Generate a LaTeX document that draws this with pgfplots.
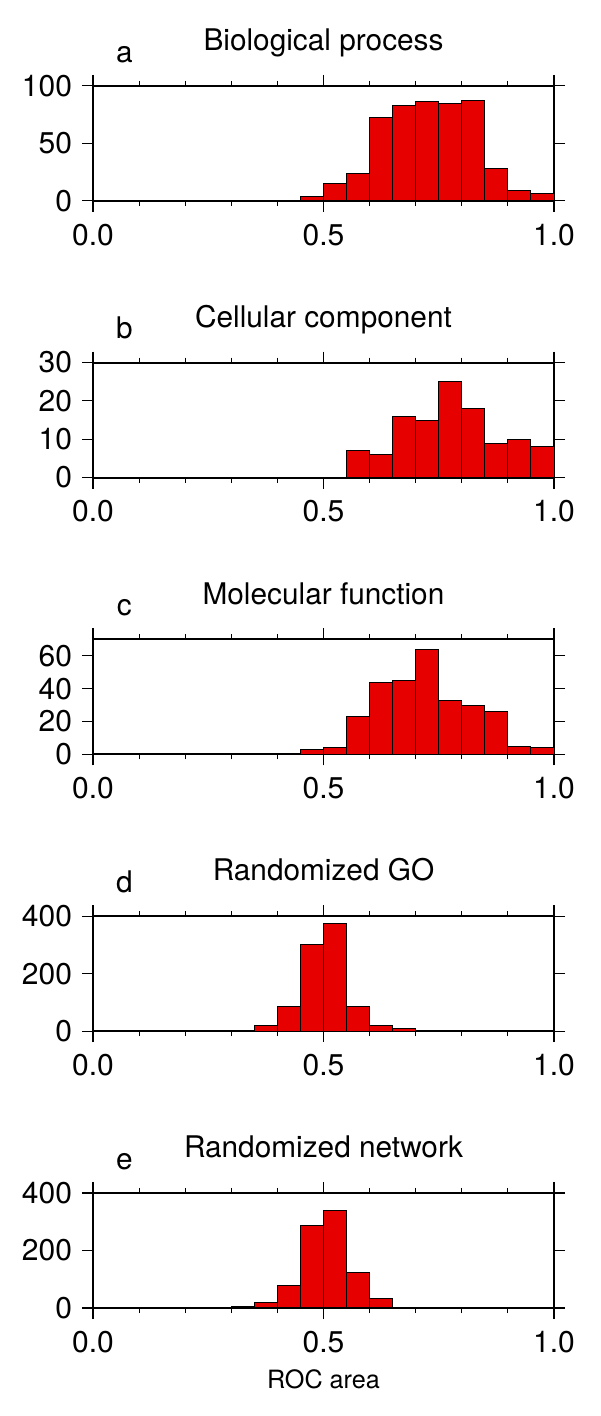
\documentclass[border=0pt]{standalone}
\usepackage{fontspec}
\setmainfont{TeX Gyre Heros}
\usepackage{pgfplots}
\pgfplotsset{compat=1.18}
\usepackage{pgfplotstable}
\definecolor{barred}{RGB}{230,0,0}

% histogram counts per 0.05 bin (left edge), last row closes the interval
\pgfplotstableread{
x y
0.45 4
0.50 15
0.55 24
0.60 72
0.65 83
0.70 86
0.75 85
0.80 87
0.85 28
0.90 9
0.95 6
1.00 6
}\bio
\pgfplotstableread{
x y
0.55 7
0.60 6
0.65 16
0.70 15
0.75 25
0.80 18
0.85 9
0.90 10
0.95 8
1.00 8
}\cell
\pgfplotstableread{
x y
0.45 3
0.50 4
0.55 23
0.60 44
0.65 45
0.70 64
0.75 33
0.80 30
0.85 26
0.90 5
0.95 4
1.00 4
}\mol
\pgfplotstableread{
x y
0.35 21
0.40 86
0.45 303
0.50 375
0.55 87
0.60 21
0.65 9
0.70 9
}\rgo
\pgfplotstableread{
x y
0.30 4
0.35 19
0.40 79
0.45 287
0.50 339
0.55 122
0.60 32
0.65 3
0.70 3
}\rnet

\pgfplotsset{
  rocpanel/.style={
    scale only axis, width=230.5pt, height=57.5pt,
    xmin=0, xmax=1, ymin=0,
    xtick={0,0.5,1}, xticklabels={0.0,0.5,1.0},
    minor xtick={0.1,0.2,0.3,0.4,0.6,0.7,0.8,0.9},
    tick align=outside, tick pos=both,
    xticklabel pos=lower, yticklabel pos=left,
    major tick length=5.5pt, minor tick length=2.5pt,
    axis line style={line width=1pt},
    every tick/.style={black, line width=0.55pt},
    /pgf/number format/assume math mode=true,
    ticklabel style={font=\fontsize{15}{17}\selectfont},
    xticklabel style={yshift=-2.5pt},
    yticklabel style={xshift=-1.5pt},
    clip=false,
  },
  histbar/.style={ybar interval, fill=barred, draw=black, line width=0.5pt},
}

\newcommand{\paneltext}[2]{%
  \node[anchor=base, font=\fontsize{14.9}{17}\selectfont] at (rel axis cs:0.5,1) [yshift=17.6pt] {#2};
  \node[anchor=base, font=\fontsize{14.9}{17}\selectfont] at (rel axis cs:0.068,1) [yshift=11.8pt] {#1};
}

\begin{document}
\begin{tikzpicture}
\path[use as bounding box] (0,0) rectangle (300pt,708pt);

\begin{axis}[rocpanel, at={(46.5pt,607.6pt)}, ymax=100, ytick={0,50,100}]
  \addplot[histbar] table {\bio};
  \paneltext{a}{Biological process}
\end{axis}

\begin{axis}[rocpanel, at={(46.5pt,469.2pt)}, ymax=30, ytick={0,10,20,30}]
  \addplot[histbar] table {\cell};
  \paneltext{b}{Cellular component}
\end{axis}

\begin{axis}[rocpanel, at={(46.5pt,330.8pt)}, ymax=70, ytick={0,20,40,60}]
  \addplot[histbar] table {\mol};
  \paneltext{c}{Molecular function}
\end{axis}

\begin{axis}[rocpanel, at={(46.5pt,192.4pt)}, ymax=400, ytick={0,200,400}]
  \addplot[histbar] table {\rgo};
  \paneltext{d}{Randomized GO}
\end{axis}

\begin{axis}[rocpanel, at={(46.5pt,54pt)}, ymax=400, ytick={0,200,400}]
  \addplot[histbar] table {\rnet};
  \paneltext{e}{Randomized network}
  \node[anchor=base, font=\fontsize{12.6}{14}\selectfont] at (rel axis cs:0.5,0) [yshift=-40pt] {ROC area};
\end{axis}
\end{tikzpicture}
\end{document}
